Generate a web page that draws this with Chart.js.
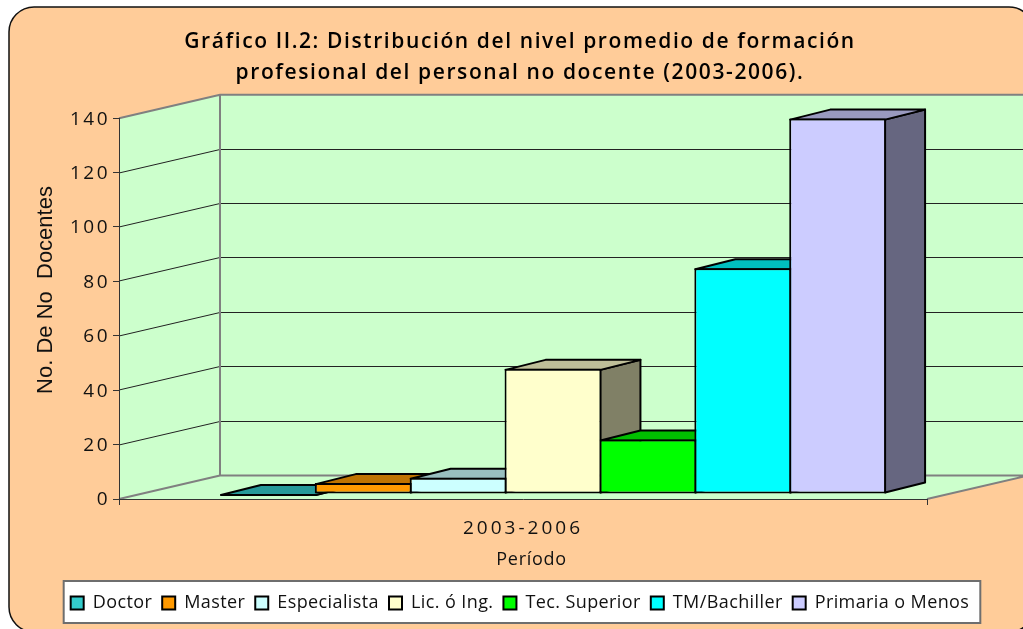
<!DOCTYPE html>
<html>
<head>
<meta charset="utf-8">
<style>
  body { margin: 0; background: #fff; }
  canvas { display: block; }
</style>
<script src="https://cdn.jsdelivr.net/npm/chart.js@4/dist/chart.umd.min.js"></script>
</head>
<body>
<canvas id="myChart" width="1023" height="629"></canvas>
<script>
const titleLines = ["Gráfico II.2: Distribución del nivel promedio de formación", "profesional del personal no docente (2003-2006)."];
const categories = ["2003-2006"];
const seriesNames = ["Doctor", "Master", "Especialista", "Lic. ó Ing.", "Tec. Superior", "TM/Bachiller", "Primaria o Menos"];
const seriesValues = [0, 4, 6, 46, 20, 83, 138];
const seriesColors = ["#33CCCC", "#FF9900", "#CCFFFF", "#FFFFCC", "#00FF00", "#00FFFF", "#CCCCFF"];
const yTitle = "No. De No  Docentes";
const xTitle = "Período";
const yMax = 140;
const yStep = 20;

const fontName = "'Open Sans', sans-serif";
const wall = { dx: 101, dy: -23.5, color: "#CCFFCC", edge: "#808080" }; // profundidad de las paredes
const bar3d = { dx: 40, dy: -10, shiftX: 30, shiftY: -5 }; // profundidad de las barras

function shade(hex, f) {
  const n = parseInt(hex.slice(1), 16);
  const r = Math.round((n >> 16) * f);
  const g = Math.round(((n >> 8) & 255) * f);
  const b = Math.round((n & 255) * f);
  return "rgb(" + r + "," + g + "," + b + ")";
}

function poly(ctx, pts, fill, stroke, lw) {
  ctx.beginPath();
  pts.forEach(function (p, i) {
    if (i === 0) ctx.moveTo(p[0], p[1]);
    else ctx.lineTo(p[0], p[1]);
  });
  ctx.closePath();
  if (fill) {
    ctx.fillStyle = fill;
    ctx.fill();
  }
  if (stroke) {
    ctx.strokeStyle = stroke;
    ctx.lineWidth = lw;
    ctx.stroke();
  }
}

function spaced(obj, method, spacing, shiftY) {
  const original = obj[method];
  obj[method] = function (a) {
    this.ctx.save();
    this.ctx.letterSpacing = spacing;
    this.ctx.translate(0, shiftY);
    original.call(this, a);
    this.ctx.restore();
  };
}

const scene3d = {
  id: "scene3d",
  beforeUpdate(chart) {
    chart.ctx.letterSpacing = "0.4px";
  },
  afterLayout(chart) {
    if (chart.$spaced) return;
    chart.$spaced = true;
    spaced(chart.titleBlock, "draw", "1.6px", 0);
    spaced(chart.scales.x, "drawLabels", "3px", 0);
    spaced(chart.scales.y, "drawLabels", "2.5px", 1);
  },
  beforeDraw(chart) {
    const ctx = chart.ctx;
    const a = chart.chartArea;
    const y = chart.scales.y;
    ctx.letterSpacing = "0.4px";

    // fondo del gráfico
    ctx.save();
    ctx.beginPath();
    ctx.roundRect(9, 7, 1025, 625, 25);
    ctx.fillStyle = "#FFCC99";
    ctx.fill();
    ctx.strokeStyle = "#111";
    ctx.lineWidth = 1.5;
    ctx.stroke();

    // paredes y piso
    const y0 = y.getPixelForValue(0);
    const yT = y.getPixelForValue(yMax);
    const bl = a.left + wall.dx;
    const br = a.right + wall.dx;
    poly(ctx, [[a.left, yT], [bl, yT + wall.dy], [bl, y0 + wall.dy], [a.left, y0]], wall.color);
    poly(ctx, [[bl, yT + wall.dy], [br, yT + wall.dy], [br, y0 + wall.dy], [bl, y0 + wall.dy]], wall.color);
    poly(ctx, [[a.left, y0], [bl, y0 + wall.dy], [br, y0 + wall.dy], [a.right, y0]], wall.color);

    // lineas de division
    ctx.lineWidth = 1;
    ctx.strokeStyle = "#222";
    y.ticks.forEach(function (t) {
      if (t.value === 0 || t.value === yMax) return;
      const py = Math.round(y.getPixelForValue(t.value));
      ctx.beginPath();
      ctx.moveTo(a.left, py);
      ctx.lineTo(bl, py + wall.dy);
      ctx.lineTo(br, py + wall.dy);
      ctx.stroke();
    });

    ctx.strokeStyle = wall.edge;
    ctx.lineWidth = 2;
    ctx.beginPath();
    ctx.moveTo(a.left, yT);
    ctx.lineTo(bl, yT + wall.dy);
    ctx.lineTo(br, yT + wall.dy);
    ctx.moveTo(bl, yT + wall.dy);
    ctx.lineTo(bl, y0 + wall.dy);
    ctx.lineTo(br, y0 + wall.dy);
    ctx.moveTo(bl, y0 + wall.dy);
    ctx.lineTo(a.left, y0);
    ctx.moveTo(a.right, y0);
    ctx.lineTo(br, y0 + wall.dy);
    ctx.stroke();

    // caja de la leyenda
    const hit = chart.legend.legendHitBoxes;
    const last = hit[hit.length - 1];
    ctx.beginPath();
    ctx.rect(hit[0].left - 7, chart.legend.top - 3, last.left + last.width - hit[0].left + 18, chart.legend.bottom - chart.legend.top + 4);
    ctx.fillStyle = "#fff";
    ctx.fill();
    ctx.strokeStyle = "#6e6e6e";
    ctx.lineWidth = 2;
    ctx.stroke();
    ctx.restore();
  },
  beforeDatasetsDraw(chart) {
    const ctx = chart.ctx;
    ctx.save();
    ctx.translate(bar3d.shiftX, bar3d.shiftY);
    ctx.lineJoin = "round";
    seriesValues.forEach(function (v, i) {
      const b = chart.getDatasetMeta(i).data[0].getProps(["x", "y", "base", "width"], true);
      const l = b.x - b.width / 2 + 1;
      const r = b.x + b.width / 2 - 1;
      const t = b.y + 1;
      const bot = b.base - 1;
      const dx = bar3d.dx;
      const dy = bar3d.dy;
      poly(ctx, [[r, t], [r + dx, t + dy], [r + dx, bot + dy], [r, bot]], shade(seriesColors[i], 0.5), "#000", 2);
      poly(ctx, [[l, t], [l + dx, t + dy], [r + dx, t + dy], [r, t]], shade(seriesColors[i], 0.75), "#000", 2);
    });
  },
  afterDatasetsDraw(chart) {
    chart.ctx.restore();
  },
  afterDraw(chart) {
    const ctx = chart.ctx;
    ctx.save();
    ctx.fillStyle = "#111";
    ctx.textAlign = "center";
    ctx.textBaseline = "middle";
    ctx.letterSpacing = "0.7px";
    ctx.font = "18px " + fontName;
    ctx.fillText(xTitle, 531.5, 560);
    ctx.letterSpacing = "0px";
    ctx.font = "22px 'Liberation Sans', sans-serif";
    ctx.translate(46, 290);
    ctx.rotate(-Math.PI / 2);
    ctx.fillText(yTitle, 0, 0);
    ctx.restore();
  },
};

const datasets = seriesNames.map(function (name, i) {
  return {
    label: name,
    data: [seriesValues[i]],
    backgroundColor: seriesColors[i],
    borderColor: "#000",
    borderWidth: 2,
    borderSkipped: false,
    clip: false,
  };
});

const myChart = new Chart(document.getElementById("myChart").getContext("2d"), {
  type: "bar",
  data: { labels: categories, datasets: datasets },
  plugins: [scene3d],
  options: {
    responsive: false,
    animation: false,
    layout: { padding: { left: 17, right: 0, top: 0, bottom: 7 } },
    datasets: { bar: { categoryPercentage: 0.822, barPercentage: 1.021 } },
    scales: {
      x: {
        grid: { drawOnChartArea: false, offset: true, tickLength: 6, color: "#333" },
        border: { color: "#333", width: 1 },
        ticks: { color: "#111", padding: 12, font: { family: fontName, size: 19 } },
        afterFit(scale) {
          scale.height = 85;
        },
      },
      y: {
        min: 0,
        max: yMax,
        grid: { drawOnChartArea: false, tickLength: 6, color: "#333" },
        border: { color: "#333", width: 1 },
        ticks: { stepSize: yStep, color: "#111", padding: 3, font: { family: fontName, size: 19 } },
        afterFit(scale) {
          scale.width = 102;
        },
      },
      // reserva el margen derecho, las paredes sobresalen del eje
      margen: {
        position: "right",
        grid: { display: false },
        border: { display: false },
        ticks: { display: false },
        afterFit(scale) {
          scale.width = 96;
        },
      },
    },
    plugins: {
      tooltip: { enabled: false },
      title: {
        display: true,
        text: titleLines,
        color: "#000",
        font: { family: fontName, size: 21, weight: "600", lineHeight: 1.48 },
        padding: { top: 26, bottom: 30 },
      },
      legend: {
        position: "bottom",
        onClick: null,
        labels: {
          color: "#111",
          boxWidth: 13,
          boxHeight: 13,
          padding: 10,
          font: { family: fontName, size: 18 },
        },
      },
    },
  },
});
</script>
</body>
</html>
